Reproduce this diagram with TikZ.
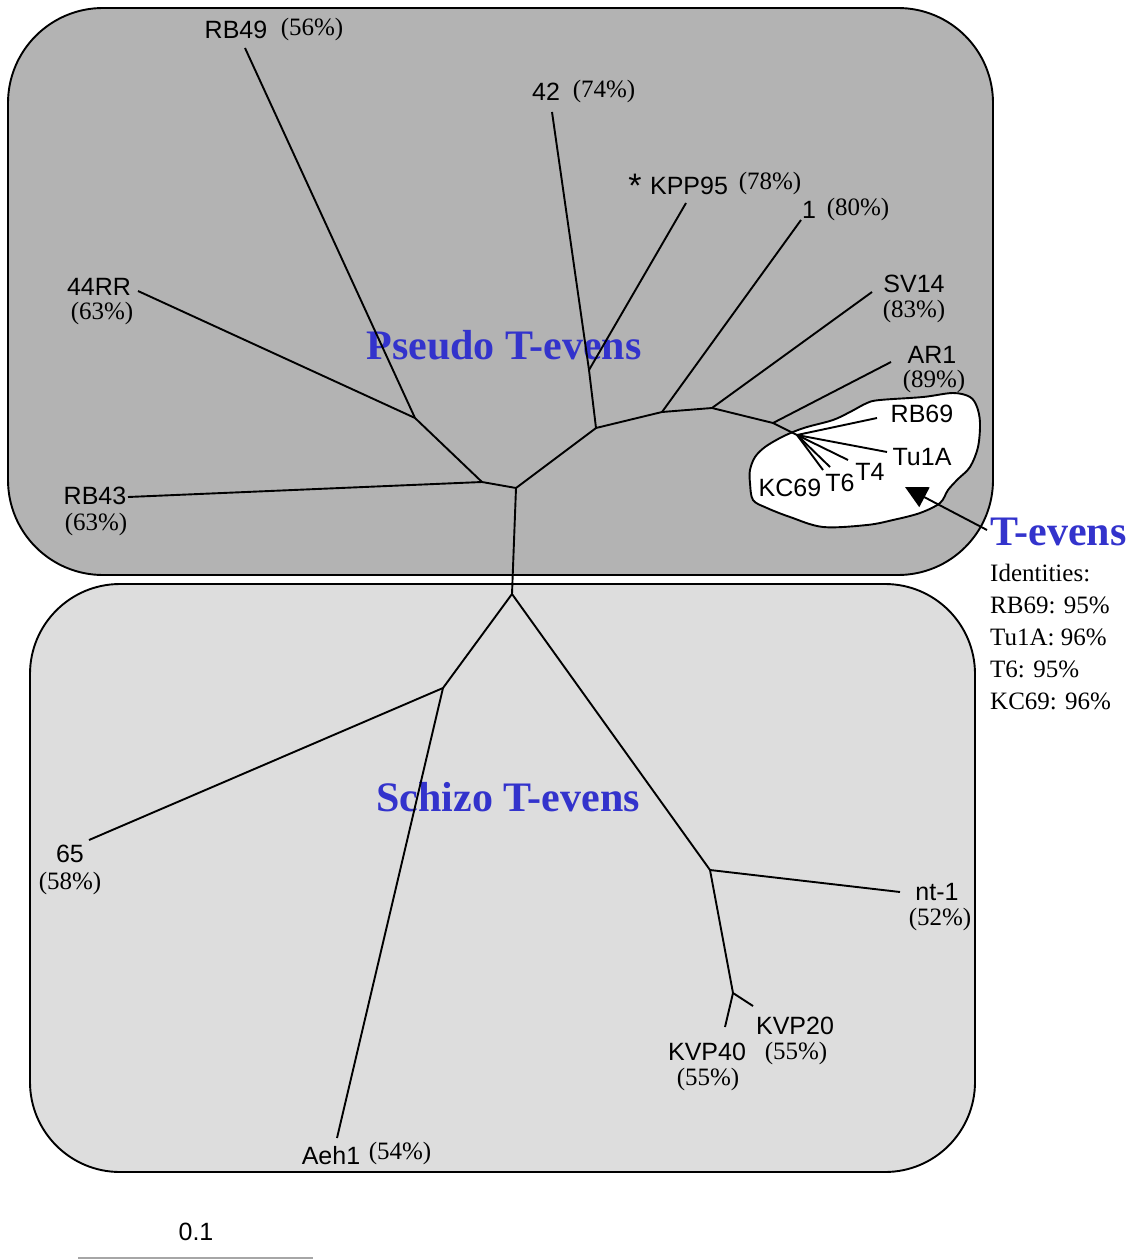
\documentclass[tikz,border=0pt]{standalone}
\usepackage{fontspec}
\setmainfont{Liberation Serif}
\setsansfont{Liberation Sans}
\usetikzlibrary{arrows.meta}
\definecolor{boxA}{RGB}{179,179,179}
\definecolor{boxB}{RGB}{221,221,221}
\definecolor{grpblue}{RGB}{51,51,204}
\begin{document}
\begin{tikzpicture}[x=1pt,y=-1pt,
  branch/.style={line width=1.9pt},
  frame/.style={line width=1.9pt, draw=black},
  lab/.style={font=\sffamily\fontsize{25}{28}\selectfont, inner sep=0pt},
  pct/.style={font=\fontsize{25}{28}\selectfont, inner sep=0pt},
  grp/.style={font=\bfseries\fontsize{42}{46}\selectfont, text=grpblue, inner sep=0pt},
  ident/.style={font=\fontsize{25}{28}\selectfont, inner sep=0pt, anchor=west},
]
\useasboundingbox (0,0) rectangle (1142,1260);

% group boxes
\draw[frame, fill=boxA, rounded corners=95pt] (8,8) rectangle (993,575);
\draw[frame, fill=boxB, rounded corners=90pt] (30,584) rectangle (975,1172);

% T-evens blob
\draw[frame, fill=white] plot[smooth cycle, tension=0.55] coordinates {
 (750,470) (755,457) (765,447) (780,438) (793,432) (807,427) (833,420)
 (850,412) (867,403) (880,400) (923,397) (953,393) (970,397) (977,407)
 (980,423) (978,447) (970,467) (958,479) (948,490) (940,503) (920,513)
 (893,520) (867,525) (823,527) (790,517) (767,508) (753,500) (750,483)};

% group labels
\node[grp] (pseudo) at (504,345) {Pseudo T-evens};
\node[grp] (schizo) at (508,797) {Schizo T-evens};

% tree internal nodes
\coordinate (n0) at (516,488);
\coordinate (n1) at (482,482);
\coordinate (n2) at (415,418);
\coordinate (n3) at (596,428);
\coordinate (n4) at (589,370);
\coordinate (n5) at (662,412);
\coordinate (n6) at (712,408);
\coordinate (n7) at (773,423);
\coordinate (n8) at (797,435);
\coordinate (r)  at (512,594);
\coordinate (s1) at (443,688);
\coordinate (s2) at (710,870);
\coordinate (s3) at (733,993);
% leaf ends
\coordinate (eRB49) at (245,48);
\coordinate (e44RR) at (138,291);
\coordinate (eRB43) at (128,497);
\coordinate (e42) at (552,112);
\coordinate (eKPP) at (686,203);
\coordinate (e1) at (801,220);
\coordinate (eSV14) at (872,292);
\coordinate (eAR1) at (891,362);
\coordinate (eRB69) at (877,418);
\coordinate (eTu1A) at (887,452);
\coordinate (eT4) at (848,460);
\coordinate (eT6) at (830,467);
\coordinate (eKC69) at (823,470);
\coordinate (e65) at (89,840);
\coordinate (eAeh1) at (337,1138);
\coordinate (ent1) at (900,892);
\coordinate (eKVP40) at (725,1027);
\coordinate (eKVP20) at (753,1006);

% branches
\draw[branch] (n0) -- (n1);
\draw[branch] (n1) -- (eRB43);
\draw[branch] (n1) -- (n2);
\draw[branch] (n2) -- (e44RR);
\draw[branch] (n2) -- (eRB49);
\draw[branch] (n0) -- (n3);
\draw[branch] (n3) -- (n4);
\draw[branch] (n4) -- (e42);
\draw[branch] (n4) -- (eKPP);
\draw[branch] (n3) -- (n5);
\draw[branch] (n5) -- (e1);
\draw[branch] (n5) -- (n6);
\draw[branch] (n6) -- (eSV14);
\draw[branch] (n6) -- (n7);
\draw[branch] (n7) -- (eAR1);
\draw[branch] (n7) -- (n8);
\draw[branch] (n8) -- (eRB69);
\draw[branch] (n8) -- (eTu1A);
\draw[branch] (n8) -- (eT4);
\draw[branch] (n8) -- (eT6);
\draw[branch] (n8) -- (eKC69);
\draw[branch] (n0) -- (r);
\draw[branch] (r) -- (s1);
\draw[branch] (s1) -- (e65);
\draw[branch] (s1) -- (eAeh1);
\draw[branch] (r) -- (s2);
\draw[branch] (s2) -- (ent1);
\draw[branch] (s2) -- (s3);
\draw[branch] (s3) -- (eKVP40);
\draw[branch] (s3) -- (eKVP20);

% leaf labels
\node[lab] (lRB49) at (236,30) {RB49};
\node[pct] (pRB49) at (312,29) {(56\%)};
\node[lab] (l42) at (546,92) {42};
\node[pct] (p42) at (604,91) {(74\%)};
\node[lab, font=\sffamily\fontsize{34}{36}\selectfont] (lstar) at (635,186) {*};
\node[lab] (lKPP) at (689,186) {KPP95};
\node[pct] (pKPP) at (770,183) {(78\%)};
\node[lab] (l1) at (809,210) {1};
\node[pct] (p1) at (858,209) {(80\%)};
\node[lab] (lSV14) at (914,284) {SV14};
\node[pct] (pSV14) at (914,311) {(83\%)};
\node[lab] (lAR1) at (932,355) {AR1};
\node[pct] (pAR1) at (934,381) {(89\%)};
\node[lab] (l44RR) at (99,287) {44RR};
\node[pct] (p44RR) at (102,313) {(63\%)};
\node[lab] (lRB43) at (95,496) {RB43};
\node[pct] (pRB43) at (96,524) {(63\%)};
\node[lab] (lRB69) at (922,414) {RB69};
\node[lab] (lTu1A) at (922,457) {Tu1A};
\node[lab] (lT4) at (870,472) {T4};
\node[lab] (lT6) at (840,483) {T6};
\node[lab] (lKC69) at (790,488) {KC69};
\node[lab] (l65) at (70,854) {65};
\node[pct] (p65) at (70,883) {(58\%)};
\node[lab] (lnt1) at (937,892) {nt-1};
\node[pct] (pnt1) at (940,919) {(52\%)};
\node[lab] (lKVP20) at (795,1026) {KVP20};
\node[pct] (pKVP20) at (796,1053) {(55\%)};
\node[lab] (lKVP40) at (707,1052) {KVP40};
\node[pct] (pKVP40) at (708,1079) {(55\%)};
\node[lab] (lAeh1) at (331,1156) {Aeh1};
\node[pct] (pAeh1) at (400,1153) {(54\%)};

% T-evens annotation
\node[grp, anchor=west] (tevens) at (990,532) {T-evens};
\node[ident] (id0) at (990,573) {Identities:};
\node[ident] (id1) at (990,605) {RB69: 95\%};
\node[ident] (id2) at (990,637) {Tu1A: 96\%};
\node[ident] (id3) at (990,669) {T6: 95\%};
\node[ident] (id4) at (990,701) {KC69: 96\%};
\coordinate (aS) at (987,530);
\coordinate (aT) at (905,487);
\draw[branch, -{Triangle[length=22pt,width=22pt]}] (aS) -- (aT);

% scale bar
\node[lab] (scale) at (196,1232) {0.1};
\coordinate (sbL) at (78,1258);
\coordinate (sbR) at (313,1258);
\draw[line width=1.5pt, draw=black!35] (sbL) -- (sbR);
\end{tikzpicture}
\end{document}
